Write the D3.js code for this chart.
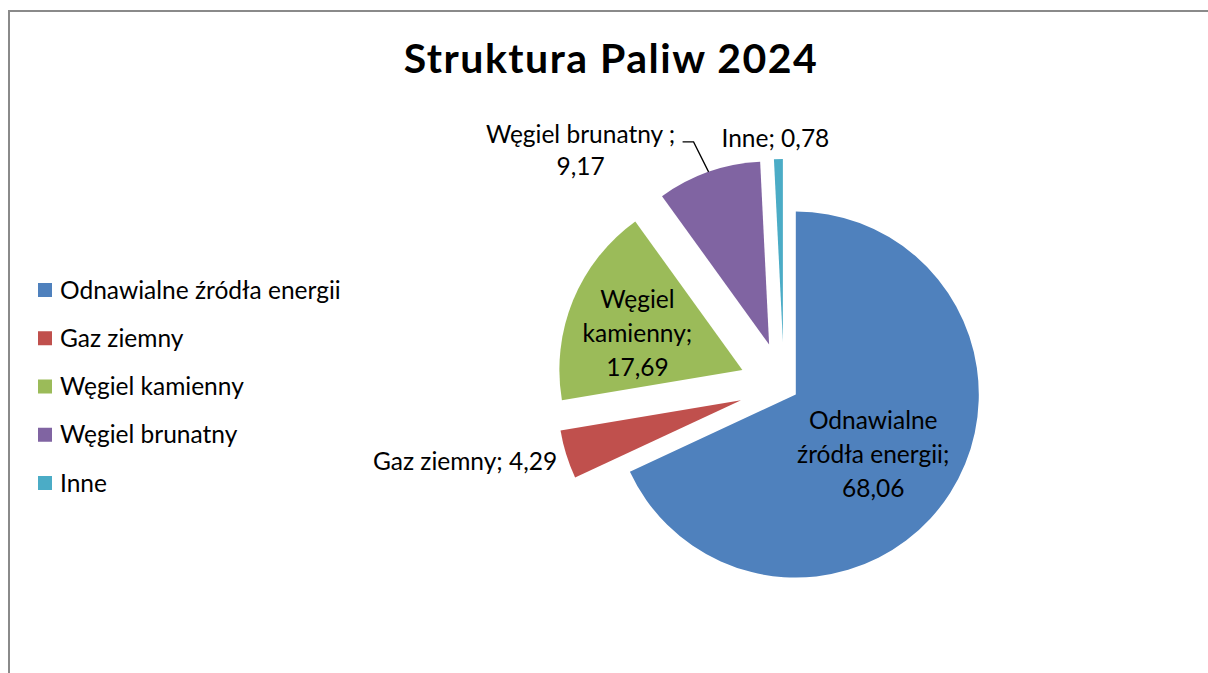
<!DOCTYPE html>
<html lang="pl">
<head>
    <meta charset="UTF-8">
    <script src="https://cdn.jsdelivr.net/npm/d3@7"></script>
    <title>Struktura Paliw 2024</title>
    <style>
        * {
            margin: 0;
            padding: 0;
            box-sizing: border-box;
        }

        body {
            width: 1208px;
            height: 673px;
            background: white;
            overflow: hidden;
        }

        svg text {
            font-family: Lato, "Open Sans", sans-serif;
            fill: #000;
        }
    </style>
</head>
<body>
    <svg width="1208" height="673"></svg>
    <script>
        let categories = ['Odnawialne źródła energii', 'Gaz ziemny', 'Węgiel kamienny', 'Węgiel brunatny', 'Inne']
        let values = [68.06, 4.29, 17.69, 9.17, 0.78]
        let valueLabels = ['68,06', '4,29', '17,69', '9,17', '0,78']
        let colors = ['#4f81bd', '#c0504d', '#9bbb59', '#8064a2', '#4bacc6']

        let fontSize = 24.5
        let svg = d3.select('svg')

        // chart frame (only top and left edge visible)
        svg.append('path')
            .attr('d', 'M9,673 L9,11 L1208,11')
            .attr('fill', 'none')
            .attr('stroke', '#8a8a8a')
            .attr('stroke-width', 2)

        svg.append('text')
            .attr('x', 611)
            .attr('y', 73)
            .attr('text-anchor', 'middle')
            .attr('font-size', 41)
            .attr('font-weight', 'bold')
            .attr('letter-spacing', 1.5)
            .text('Struktura Paliw 2024')

        // legend
        let legendY = d3.scalePoint()
            .domain(categories)
            .range([290, 483])

        let legend = svg.append('g')
            .selectAll('g')
            .data(categories)
            .join('g')
            .attr('transform', d => `translate(38, ${legendY(d)})`)

        legend.append('rect')
            .attr('x', 0)
            .attr('y', -7)
            .attr('width', 14)
            .attr('height', 14)
            .attr('fill', (d, i) => colors[i])

        legend.append('text')
            .attr('x', 22)
            .attr('dy', '0.35em')
            .attr('font-size', fontSize)
            .text(d => d)

        // pie
        let cx = 784, cy = 387, radius = 183
        let explode = [14, 45, 45, 45, 45]

        let pie = d3.pie().sort(null)
        let arcs = pie(values)
        let arc = d3.arc().innerRadius(0).outerRadius(radius)

        let offset = (d, dist) => {
            let a = (d.startAngle + d.endAngle) / 2
            return [Math.sin(a) * dist, -Math.cos(a) * dist]
        }

        let slices = svg.append('g')
            .attr('transform', `translate(${cx}, ${cy})`)
            .selectAll('g')
            .data(arcs)
            .join('g')
            .attr('transform', (d, i) => `translate(${offset(d, explode[i])})`)

        slices.append('path')
            .attr('d', arc)
            .attr('fill', (d, i) => colors[i])

        // labels inside slices
        let inside = [
            { i: 0, r: 0.56, lines: ['Odnawialne', 'źródła energii;', valueLabels[0]], dx: -9, dy: 5 },
            { i: 2, r: 0.62, lines: ['Węgiel', 'kamienny;', valueLabels[2]], dx: 0, dy: 7 }
        ]

        inside.forEach(l => {
            let d = arcs[l.i]
            let [ox, oy] = offset(d, explode[l.i])
            let [px, py] = offset(d, radius * l.r)
            let t = svg.append('text')
                .attr('text-anchor', 'middle')
                .attr('font-size', fontSize)
            l.lines.forEach((s, k) => {
                t.append('tspan')
                    .attr('x', cx + ox + px + l.dx)
                    .attr('y', cy + oy + py + l.dy + (k - 1) * 34)
                    .attr('dy', '0.35em')
                    .text(s)
            })
        })

        // labels outside slices
        let outerPoint = i => {
            let d = arcs[i]
            let [ox, oy] = offset(d, explode[i])
            let [px, py] = offset(d, radius)
            return [cx + ox + px, cy + oy + py]
        }

        let [gx, gy] = outerPoint(1)
        svg.append('text')
            .attr('x', gx - 9)
            .attr('y', gy + 7)
            .attr('dy', '0.35em')
            .attr('text-anchor', 'end')
            .attr('font-size', fontSize)
            .text(categories[1] + '; ' + valueLabels[1])

        let [bx, by] = outerPoint(3)
        svg.append('path')
            .attr('d', `M${bx},${by} L${bx - 15},${by - 30} L${bx - 26},${by - 30}`)
            .attr('fill', 'none')
            .attr('stroke', '#000')
            .attr('stroke-width', 1.3)

        let bt = svg.append('text')
            .attr('text-anchor', 'middle')
            .attr('font-size', fontSize)
        ;[categories[3] + ' ;', valueLabels[3]].forEach((s, k) => {
            bt.append('tspan')
                .attr('x', bx - 128)
                .attr('y', by - 37 + k * 32)
                .attr('dy', '0.35em')
                .text(s)
        })

        let [ix, iy] = outerPoint(4)
        svg.append('text')
            .attr('x', ix - 3)
            .attr('y', iy - 21)
            .attr('dy', '0.35em')
            .attr('text-anchor', 'middle')
            .attr('font-size', fontSize)
            .text(categories[4] + '; ' + valueLabels[4])
    </script>
</body>
</html>
